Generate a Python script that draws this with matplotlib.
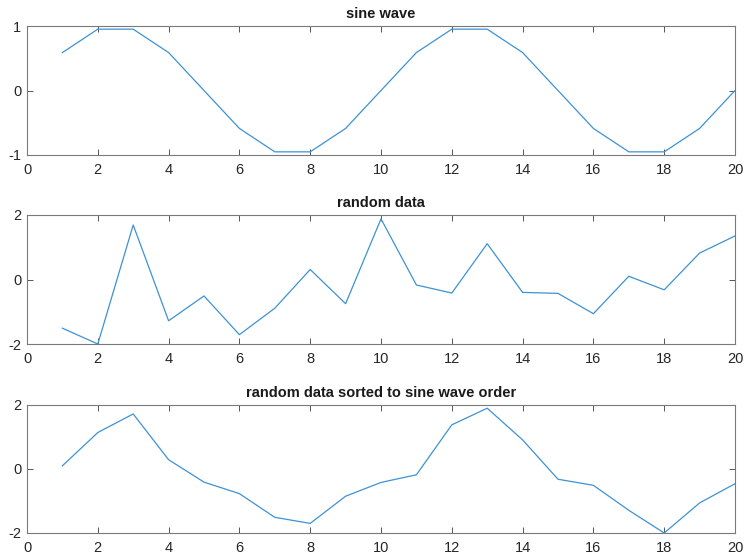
import matplotlib
matplotlib.use('Agg')
import matplotlib.pyplot as plt

plt.rcParams['font.family'] = ['Liberation Sans', 'DejaVu Sans']
plt.rcParams['axes.unicode_minus'] = False

x = list(range(1, 21))

# sine wave samples
sine_vals = [0.588, 0.951, 0.951, 0.588, 0.0, -0.588, -0.951, -0.951, -0.588, 0.0,
             0.588, 0.951, 0.951, 0.588, 0.0, -0.588, -0.951, -0.951, -0.588, 0.0]

# random data
rand_vals = [-1.51, -2.00, 1.69, -1.28, -0.51, -1.71, -0.89, 0.31, -0.75, 1.88,
             -0.17, -0.42, 1.11, -0.40, -0.43, -1.06, 0.10, -0.32, 0.82, 1.35]

# random data sorted to sine wave order
sorted_vals = [0.10, 1.14, 1.72, 0.29, -0.41, -0.77, -1.51, -1.70, -0.85, -0.42,
               -0.18, 1.38, 1.90, 0.91, -0.32, -0.51, -1.29, -2.00, -1.06, -0.46]

titles = ['sine wave', 'random data', 'random data sorted to sine wave order']
series = [sine_vals, rand_vals, sorted_vals]
ylims = [(-1, 1), (-2, 2), (-2, 2)]
yticks = [[-1, 0, 1], [-2, 0, 2], [-2, 0, 2]]

W, H = 745, 555
fig = plt.figure(figsize=(W / 100, H / 100), dpi=100)

# axes boxes in pixels: (top, bottom)
boxes = [(26, 155), (215, 344), (405, 533)]
left, right = 27, 735

for (top, bot), t, ys, yl, yt in zip(boxes, titles, series, ylims, yticks):
    ax = fig.add_axes([left / W, 1 - bot / H, (right - left) / W, (bot - top) / H])
    ax.plot(x, ys, color='#3d92d4', lw=0.9)
    ax.set_xlim(0, 20)
    ax.set_ylim(*yl)
    ax.set_xticks(range(0, 21, 2))
    ax.set_yticks(yt)
    ax.set_title(t, fontsize=10.5, fontweight='bold', color='#1a1a1a', pad=6)
    ax.tick_params(axis='x', pad=6)
    ax.tick_params(axis='y', pad=4)
    ax.tick_params(direction='in', top=True, right=True, length=4, width=0.7,
                   color='#555555', labelsize=10.5, labelcolor='#262626')
    for s in ax.spines.values():
        s.set_color('#7a7a7a')
        s.set_linewidth(0.8)

fig.savefig('out.png', dpi=100)
